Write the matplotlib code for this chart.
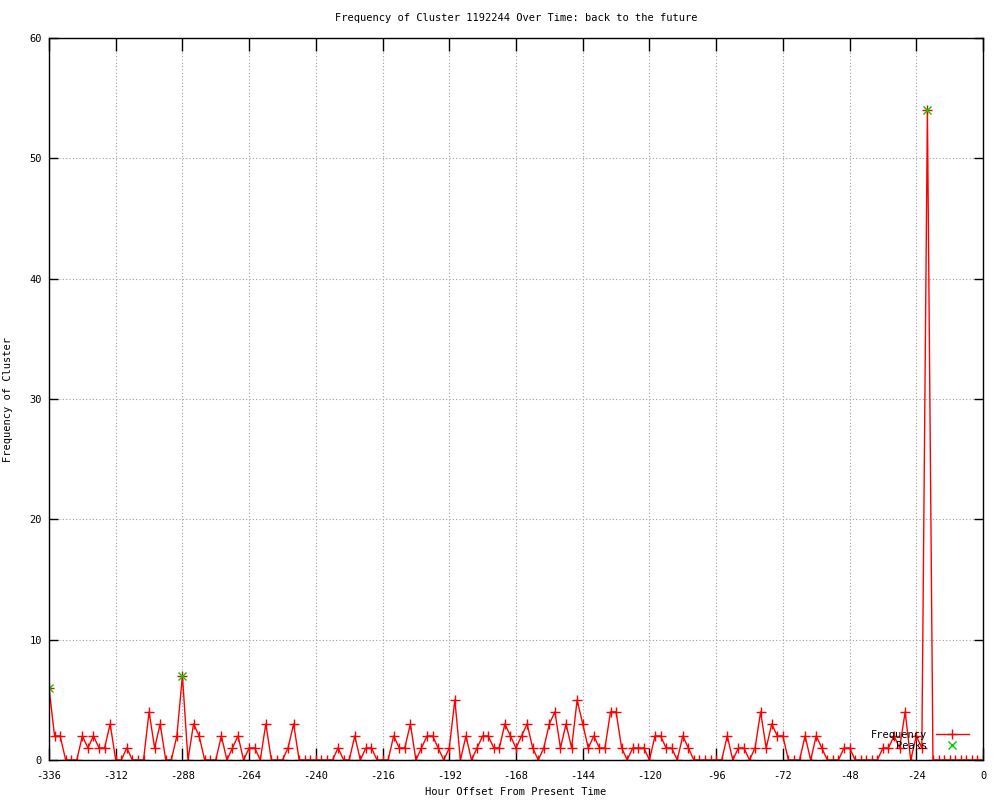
"""
Frequency of a cluster over time, gnuplot-like look.
"""

import numpy as np
import matplotlib
matplotlib.use("Agg")
import matplotlib.pyplot as plt

plt.rcParams["axes.unicode_minus"] = False

# data: counts every 2 hours from -336 to 0
hours = np.arange(-336, 1, 2)
counts = [6, 2, 2, 0, 0, 0, 2, 1, 2, 1, 1, 3, 0, 0, 1, 0, 0, 0, 4, 1,
          3, 0, 0, 2, 7, 0, 3, 2, 0, 0, 0, 2, 0, 1, 2, 0, 1, 1, 0, 3,
          0, 0, 0, 1, 3, 0, 0, 0, 0, 0, 0, 0, 1, 0, 0, 2, 0, 1, 1, 0,
          0, 0, 2, 1, 1, 3, 0, 1, 2, 2, 1, 0, 1, 5, 0, 2, 0, 1, 2, 2,
          1, 1, 3, 2, 1, 2, 3, 1, 0, 1, 3, 4, 1, 3, 1, 5, 3, 1, 2, 1,
          1, 4, 4, 1, 0, 1, 1, 1, 0, 2, 2, 1, 1, 0, 2, 1, 0, 0, 0, 0,
          0, 0, 2, 0, 1, 1, 0, 1, 4, 1, 3, 2, 2, 0, 0, 0, 2, 0, 2, 1,
          0, 0, 0, 1, 1, 0, 0, 0, 0, 0, 1, 1, 2, 1, 4, 0, 2, 1, 54, 0,
          0, 0, 0, 0, 0, 0, 0, 0, 0]

peak_hours = [-336, -288, -20]
peak_counts = [6, 7, 54]

x_ticks = list(range(-336, 1, 24))
y_ticks = list(range(0, 61, 10))

font = "DejaVu Sans Mono"
fs = 7.5

fig = plt.figure(figsize=(10, 8), dpi=100)
ax = fig.add_axes([0.049, 0.05, 0.934, 0.9025])

ax.plot(hours, counts, color="#ff0000", linewidth=1, marker="+",
        markersize=7, markeredgewidth=1, label="Frequency")
ax.plot(peak_hours, peak_counts, linestyle="none", color="#00cc00",
        marker="x", markersize=6, markeredgewidth=1, label="Peaks")

ax.set_xlim(-336, 0)
ax.set_ylim(0, 60)
ax.set_xticks(x_ticks)
ax.set_yticks(y_ticks)

ax.grid(True, color="#a0a0a0", linestyle=(0, (1, 2)), linewidth=0.8)
ax.set_axisbelow(True)
ax.tick_params(direction="in", width=1, top=True, right=True,
               labelsize=fs)
ax.tick_params(axis="x", length=9, pad=8)
ax.tick_params(axis="y", length=6.5, pad=5)
for lab in ax.get_xticklabels() + ax.get_yticklabels():
    lab.set_fontfamily(font)
for sp in ax.spines.values():
    sp.set_linewidth(1)

ax.set_title("Frequency of Cluster 1192244 Over Time: back to the future",
             fontfamily=font, fontsize=fs, pad=12)
ax.set_xlabel("Hour Offset From Present Time", fontfamily=font, fontsize=fs,
              labelpad=4)
ax.set_ylabel("Frequency of Cluster", fontfamily=font, fontsize=fs)
ax.yaxis.set_label_coords(-0.0385, 0.5)

ax.legend(loc="lower right", bbox_to_anchor=(0.995, 0.0), frameon=False,
          markerfirst=False, handlelength=3.2, handletextpad=0.8,
          labelspacing=0.1, prop={"family": font, "size": fs})

fig.savefig("out.png", dpi=100)
